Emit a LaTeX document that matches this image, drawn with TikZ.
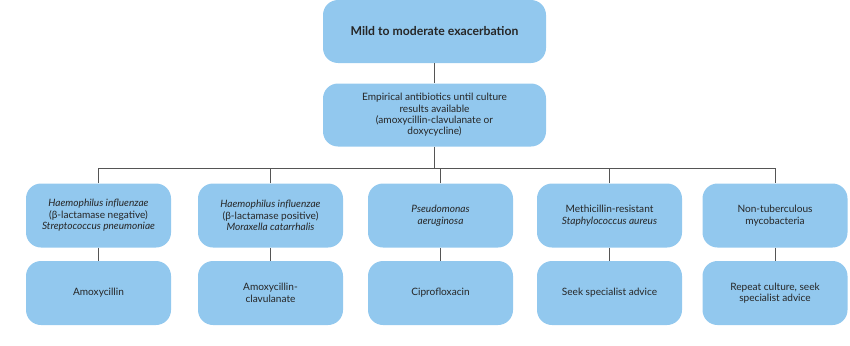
\documentclass[tikz,border=0pt]{standalone}
\usepackage{fontspec}
\setmainfont{Lato}
\definecolor{boxblue}{RGB}{146,200,238}
\definecolor{linegray}{RGB}{85,85,85}
\begin{document}
\begin{tikzpicture}[x=1pt,y=-1pt,
  box/.style={fill=boxblue,rounded corners=15pt,minimum width=145pt,minimum height=64pt,align=center,font=\fontsize{10.1}{11.4}\selectfont,text=black!85,inner sep=2pt},
  topbox/.style={box,minimum width=223pt,minimum height=63pt},
  conn/.style={draw=linegray,line width=0.8pt}]
\useasboundingbox (0,0) rectangle (850,345);
\node[topbox,font=\fontsize{12.2}{14}\selectfont\bfseries] (top) at (434.5,31.5) {Mild to moderate exacerbation};
\node[topbox] (emp) at (434.5,115) {Empirical antibiotics until culture\\results available\\(amoxycillin-clavulanate or\\doxycycline)};
\node[box] (a1) at (98.5,215.5) {\textit{Haemophilus influenzae}\\(β-lactamase negative)\\\textit{Streptococcus pneumoniae}};
\node[box] (a2) at (270.5,215.5) {\textit{Haemophilus influenzae}\\(β-lactamase positive)\\\textit{Moraxella catarrhalis}};
\node[box] (a3) at (440.5,215.5) {\textit{Pseudomonas}\\\textit{aeruginosa}};
\node[box] (a4) at (609.5,215.5) {Methicillin-resistant\\\textit{Staphylococcus aureus}};
\node[box] (a5) at (775,215.5) {Non-tuberculous\\mycobacteria};
\node[box] (b1) at (98.5,293) {Amoxycillin};
\node[box] (b2) at (270.5,293) {Amoxycillin-\\clavulanate};
\node[box] (b3) at (440.5,293) {Ciprofloxacin};
\node[box] (b4) at (609.5,293) {Seek specialist advice};
\node[box] (b5) at (775,293) {Repeat culture, seek\\specialist advice};
\coordinate (hy) at (0,168);
\draw[conn] (top.south) -- (emp.north);
\draw[conn] (emp.south) -- (emp.south |- hy);
\draw[conn] (a1.north) -- (a1.north |- hy) -- (a5.north |- hy) -- (a5.north);
\foreach \i in {2,3,4} \draw[conn] (a\i.north) -- (a\i.north |- hy);
\foreach \i in {1,...,5} \draw[conn] (a\i.south) -- (b\i.north);
\end{tikzpicture}
\end{document}
